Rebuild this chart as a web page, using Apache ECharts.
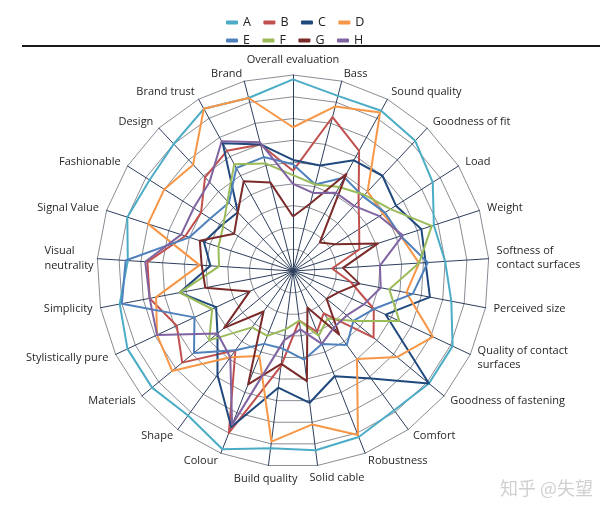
<!DOCTYPE html>
<html><head><meta charset="utf-8">
<script src="https://cdn.jsdelivr.net/npm/echarts@6/dist/echarts.min.js"></script>
<style>html,body{margin:0;padding:0;background:#fff}#c{width:614px;height:514px}</style>
</head><body><div id="c"></div>
<script>
const categories = ['Overall evaluation','Bass','Sound quality','Goodness of fit','Load','Weight','Softness of\ncontact surfaces','Perceived size','Quality of contact\nsurfaces','Goodness of fastening','Comfort','Robustness','Solid cable','Build quality','Colour','Shape','Materials','Stylistically pure','Simplicity','Visual\nneutrality','Signal Value','Fashionable','Design','Brand trust','Brand'];
const seriesNames = ['A','B','C','D','E','F','G','H'];
const colors = ['#4BACC6','#C0504D','#1F497D','#F79646','#4F81BD','#9BBB59','#7B2A2A','#8064A2'];
// scores on a 1-10 scale (centre = 1, outer ring = 10)
const A = [9.8,9.3,9.4,9.2,8.6,7.8,8.0,8.4,9.1,9.1,8.9,9.2,9.3,9.2,9.8,9.2,9.4,9.4,9.1,8.6,9.0,8.8,9.0,9.5,9.2];
const B = [5.6,8.3,7.3,5.4,4.6,4.2,2.8,3.7,5.1,5.8,3.4,4.0,3.3,5.4,9.0,5.5,7.6,6.9,7.7,7.7,6.2,6.0,6.9,7.3,7.0];
const C = [6.1,6.0,6.8,7.0,6.6,7.2,7.1,7.4,5.7,9.1,7.1,6.2,7.1,6.4,8.7,6.9,5.5,4.9,6.3,4.8,5.3,4.9,4.7,7.7,7.0];
const D = [7.6,8.8,9.3,6.0,5.9,6.2,6.8,6.3,8.1,7.2,6.0,9.1,8.1,8.9,5.2,5.9,8.2,7.9,7.4,5.3,8.0,8.0,7.7,9.5,9.2];
const E = [5.9,5.1,5.9,5.7,6.0,6.2,7.2,6.6,5.1,4.6,5.2,4.6,5.1,4.6,4.6,5.5,6.9,6.0,9.0,8.7,6.0,5.5,5.3,6.4,6.4];
const F = [5.4,5.1,5.4,5.8,6.3,7.7,6.8,5.5,6.4,4.6,3.7,4.2,3.3,3.7,4.2,4.2,6.0,5.1,6.3,4.4,4.6,4.8,5.4,6.6,6.1];
const G = [3.5,4.2,6.1,2.8,3.3,5.1,3.3,4.1,3.3,3.0,4.6,2.8,6.1,5.3,6.6,3.3,5.1,3.2,5.1,5.2,5.5,4.2,4.7,5.7,5.2];
const H = [5.0,4.7,5.1,5.1,5.7,6.3,5.0,5.1,4.6,4.2,4.2,4.6,3.7,4.2,8.6,5.9,5.5,7.9,7.7,7.8,6.4,6.4,6.6,7.8,7.1];
const allData = [A,B,C,D,E,F,G,H];
const minValue = 1, maxValue = 10, rings = 9;

// ECharts lays indicators counter-clockwise; reorder so they read clockwise like the reference
const order = [0];
for (let i = categories.length - 1; i >= 1; i--) order.push(i);

// small label nudges to match the reference placement
const nameStyle = {'Build quality': 'bq', 'Solid cable': 'sc', 'Visual\nneutrality': 'vn'};

const chart = echarts.init(document.getElementById('c'), null, {renderer: 'canvas'});
const font = '"Open Sans", "DejaVu Sans", sans-serif';
chart.setOption({
  backgroundColor: '#fff',
  animation: false,
  legend: [
    {data: seriesNames.slice(0,4), left: 221, top: 11, itemWidth: 12, itemHeight: 4, itemGap: 12.5, icon: 'roundRect',
     textStyle: {fontSize: 12.5, color: '#222', fontFamily: font}},
    {data: seriesNames.slice(4), left: 221, top: 29, itemWidth: 12, itemHeight: 4, itemGap: 12.5, icon: 'roundRect',
     textStyle: {fontSize: 12.5, color: '#222', fontFamily: font}}
  ],
  graphic: [
    {type: 'line', shape: {x1: 22, y1: 46, x2: 600, y2: 46}, style: {stroke: '#1a1a1a', lineWidth: 2}},
    {type: 'text', left: 500, top: 479, style: {text: '知乎 @失望', font: '18px "Noto Sans CJK SC"', fill: '#d0d0d0'}}
  ],
  radar: {
    center: [293, 271],
    radius: 196,
    startAngle: 90,
    shape: 'polygon',
    splitNumber: rings,
    indicator: order.map(i => ({name: categories[i], min: minValue, max: maxValue})),
    axisName: {
      color: '#231f20', fontSize: 11, fontFamily: font, lineHeight: 14,
      formatter: (name) => {
        const key = nameStyle[name];
        if (!key) return name;
        return name.split('\n').map(part => '{' + key + '|' + part + '}').join('\n');
      },
      rich: {
        bq: {fontSize: 11, fontFamily: font, color: '#231f20', padding: [11, -30, 0, 0]},
        sc: {fontSize: 11, fontFamily: font, color: '#231f20', padding: [8, 0, 0, -9]},
        vn: {fontSize: 11, fontFamily: font, color: '#231f20', width: 50, align: 'left', lineHeight: 15, padding: [0, -5, 0, 0]}
      }
    },
    nameGap: 8,
    splitLine: {lineStyle: {color: '#6b6f78', width: 0.8}},
    splitArea: {show: false},
    axisLine: {lineStyle: {color: '#2c3e5c', width: 1}}
  },
  series: [{
    type: 'radar',
    symbol: 'none',
    data: allData.map((arr, k) => ({
      name: seriesNames[k],
      value: order.map(i => arr[i]),
      lineStyle: {color: colors[k], width: 2},
      itemStyle: {color: colors[k]}
    }))
  }]
});
</script></body></html>
